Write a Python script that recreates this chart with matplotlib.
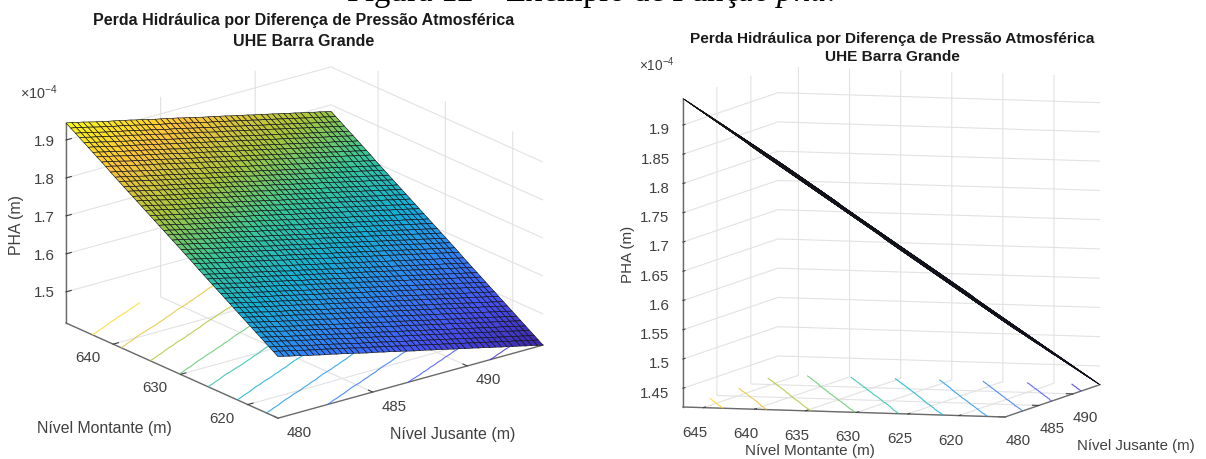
import numpy as np
import matplotlib
matplotlib.use("Agg")
import matplotlib.pyplot as plt
from matplotlib.colors import LinearSegmentedColormap, Normalize
from matplotlib.transforms import Affine2D
from mpl_toolkits.mplot3d import proj3d

W, H = 1206, 459

plt.rcParams["font.family"] = ["Liberation Sans", "DejaVu Sans"]
plt.rcParams["mathtext.fontset"] = "custom"
plt.rcParams["mathtext.rm"] = "Liberation Sans"
plt.rcParams["mathtext.it"] = "Liberation Serif:italic"
plt.rcParams["mathtext.default"] = "regular"
plt.rcParams["grid.color"] = "#e2e2e2"
plt.rcParams["grid.linewidth"] = 0.8

# mesh nodes (m)
nivel_jusante = [480.0, 480.3, 480.6, 480.9, 481.2, 481.6, 481.9, 482.2, 482.5, 482.8,
                 483.1, 483.4, 483.7, 484.0, 484.3, 484.7, 485.0, 485.3, 485.6, 485.9,
                 486.2, 486.5, 486.8, 487.2, 487.5, 487.8, 488.1, 488.4, 488.7, 489.0,
                 489.3, 489.6, 489.9, 490.3, 490.6, 490.9, 491.2, 491.5, 491.8, 492.1,
                 492.4, 492.8, 493.1, 493.4, 493.7, 494.0]
nivel_montante = [615.5, 616.2, 616.8, 617.5, 618.1, 618.8, 619.4, 620.1, 620.8, 621.4,
                  622.1, 622.7, 623.4, 624.0, 624.7, 625.3, 626.0, 626.6, 627.3, 628.0,
                  628.6, 629.3, 629.9, 630.6, 631.2, 631.9, 632.5, 633.2, 633.9, 634.5,
                  635.2, 635.8, 636.5, 637.1, 637.8, 638.4, 639.1, 639.7, 640.4, 641.1,
                  641.7, 642.4, 643.0, 643.7, 644.3, 645.0, 645.6, 646.3, 647.0]

# PHA (x 1e-4 m) along the montante nodes, at jusante 480
pha_montante = [1.580, 1.588, 1.595, 1.603, 1.610, 1.618, 1.625, 1.633, 1.641, 1.648,
                1.656, 1.663, 1.671, 1.678, 1.686, 1.693, 1.701, 1.708, 1.716, 1.725,
                1.732, 1.740, 1.747, 1.755, 1.762, 1.770, 1.777, 1.785, 1.793, 1.800,
                1.808, 1.815, 1.823, 1.830, 1.838, 1.845, 1.853, 1.860, 1.868, 1.877,
                1.884, 1.892, 1.899, 1.907, 1.914, 1.922, 1.929, 1.937, 1.945]
# drop of PHA along the jusante nodes
queda_jusante = [0.000, 0.003, 0.007, 0.010, 0.014, 0.019, 0.022, 0.026, 0.029, 0.032,
                 0.036, 0.039, 0.043, 0.046, 0.050, 0.055, 0.058, 0.061, 0.065, 0.068,
                 0.072, 0.075, 0.079, 0.084, 0.087, 0.090, 0.094, 0.097, 0.101, 0.104,
                 0.108, 0.111, 0.115, 0.119, 0.123, 0.126, 0.130, 0.133, 0.137, 0.140,
                 0.144, 0.148, 0.152, 0.155, 0.159, 0.162]

contour_levels = [1.45, 1.50, 1.55, 1.60, 1.65, 1.70, 1.75, 1.80, 1.85, 1.90]

left_z_ticks = [1.5, 1.6, 1.7, 1.8, 1.9]
left_m_ticks = [620, 630, 640]
right_z_ticks = [1.45, 1.5, 1.55, 1.6, 1.65, 1.7, 1.75, 1.8, 1.85, 1.9]
right_m_ticks = [620, 625, 630, 635, 640, 645]
j_ticks = [480, 485, 490]

titulo = "Perda Hidráulica por Diferença de Pressão Atmosférica\nUHE Barra Grande"

parula = LinearSegmentedColormap.from_list("parula", [
    (0.2422, 0.1504, 0.6603), (0.2810, 0.3228, 0.9579), (0.1786, 0.5289, 0.9682),
    (0.0689, 0.6948, 0.8394), (0.2161, 0.7843, 0.5923), (0.6720, 0.7793, 0.2227),
    (0.9970, 0.7659, 0.2199), (0.9769, 0.9839, 0.0805)])

X, Y = np.meshgrid(nivel_jusante, nivel_montante)
Z = np.array(pha_montante)[:, None] - np.array(queda_jusante)[None, :]
zmin, zmax = min(Z.min(), 1.418), Z.max()
norm = Normalize(zmin, zmax)

fig = plt.figure(figsize=(W / 100, H / 100), dpi=100)


def project_px(ax, x, y, z):
    x2, y2, _ = proj3d.proj_transform(x, y, z, ax.get_proj())
    px, py = ax.transData.transform((x2, y2))
    return px, H - py


# moves the square axes so the floor corners land on the wanted pixels
def fit_axes(ax, corner_a, corner_b, target_a, target_b):
    for i in range(3):
        fig.canvas.draw()
        pa = project_px(ax, *corner_a)
        pb = project_px(ax, *corner_b)
        scale = (target_b[0] - target_a[0]) / (pb[0] - pa[0])
        pos = ax.get_position()
        cx = (pos.x0 + pos.x1) / 2 * W
        cy = H - (pos.y0 + pos.y1) / 2 * H
        new_cx = target_a[0] - (pa[0] - cx) * scale
        new_cy = target_a[1] - (pa[1] - cy) * scale
        size = pos.width * W * scale
        ax.set_position([(new_cx - size / 2) / W, 1 - (new_cy + size / 2) / H,
                         size / W, size / H])


# axis3d resets the tick transforms on every draw, so the shift goes in here
def shift_ticklabels(ax, axis, dx, dy, ha=None):
    orig = axis.get_major_ticks
    shift = Affine2D().translate(dx, -dy)

    def shifted(numticks=None):
        ticks = orig(numticks)
        for t in ticks:
            t.label1.set_transform(ax.transData + shift)
            if ha:
                t.label1.set_ha(ha)
        return ticks
    axis.get_major_ticks = shifted


def make_panel(rect, elev, azim, aspect, m_ticks, z_ticks, zfmt):
    ax = fig.add_axes(rect, projection="3d", proj_type="ortho", computed_zorder=False)
    ax.patch.set_alpha(0)
    ax.view_init(elev=elev, azim=azim)
    ax.set_box_aspect(aspect)
    ax.contour(X, Y, Z, levels=contour_levels, zdir="z", offset=zmin, cmap=parula,
               norm=norm, linewidths=0.8, alpha=0.85, zorder=1)
    ax.plot_surface(X, Y, Z, rstride=1, cstride=1, cmap=parula, norm=norm, shade=False,
                    edgecolor="#101018", linewidth=0.45, antialiased=True, zorder=2)
    ax.set_xlim(480, 494)
    ax.set_ylim(615.5, 647)
    ax.set_zlim(zmin, zmax)
    ax.set_xticks(j_ticks)
    ax.set_yticks(m_ticks)
    ax.set_zticks(z_ticks)
    ax.set_zticklabels([zfmt % v for v in z_ticks])
    for axis in (ax.xaxis, ax.yaxis, ax.zaxis):
        axis.set_pane_color((1, 1, 1, 0))
        axis.pane.set_edgecolor("none")
        axis.line.set_color("#6a6a6a")
        axis.line.set_linewidth(1.0)
        axis._axinfo["tick"]["inward_factor"] = 0.0
        axis._axinfo["tick"]["outward_factor"] = 0.25
        axis._axinfo["tick"]["linewidth"] = {True: 0.8, False: 0.5}
        axis._axinfo["tick"]["color"] = "#404040"
    ax.tick_params(labelsize=10.8, colors="#404040", pad=4)
    return ax


left = make_panel([0.05, 0.05, 0.4, 0.4 * W / H], 20.6, -128.1, (336.6, 343.6, 213.7),
                  left_m_ticks, left_z_ticks, "%.1f")
fit_axes(left, (480, 647, zmin), (494, 615.5, zmin), (66, 323), (543, 345))
shift_ticklabels(left, left.xaxis, 8, -11)
shift_ticklabels(left, left.yaxis, -9, -10)
shift_ticklabels(left, left.zaxis, 8, -4)

right = make_panel([0.55, 0.05, 0.4, 0.4 * W / H], 5.9, -163.2, (328.7, 336.4, 310),
                   right_m_ticks, right_z_ticks, "%g")
fit_axes(right, (480, 647, zmin), (494, 615.5, zmin), (683, 407), (1100, 387))
shift_ticklabels(right, right.xaxis, -6, -2)
shift_ticklabels(right, right.yaxis, -3, -2)
shift_ticklabels(right, right.zaxis, 11, -3, ha="right")


def px_text(x, y, s, **kw):
    kw.setdefault("ha", "center")
    kw.setdefault("va", "center")
    kw.setdefault("color", "#404040")
    fig.text(x / W, 1 - y / H, s, **kw)


px_text(590, 1, r"Figura 12 – Exemplo de Função $\mathit{pha}$.", family="Liberation Serif",
        fontsize=23.7, color="black", va="baseline")

px_text(304, 31, titulo, fontsize=11.5, fontweight="bold", color="#1a1a1a", linespacing=1.42)
px_text(892, 48, titulo, fontsize=11.1, fontweight="bold", color="#1a1a1a", linespacing=1.35)

px_text(39, 93, r"$\times10^{-4}$", fontsize=10.4)
px_text(657, 65, r"$\times10^{-4}$", fontsize=9.8)
px_text(17, 225, "PHA (m)", fontsize=11.4, rotation=90)
px_text(628, 254, "PHA (m)", fontsize=10.9, rotation=90)
px_text(104, 429, "Nível Montante (m)", fontsize=11.4)
px_text(453, 434, "Nível Jusante (m)", fontsize=11.5)
px_text(810, 451, "Nível Montante (m)", fontsize=11)
px_text(1136, 446, "Nível Jusante (m)", fontsize=10.8)

fig.savefig("out.png", dpi=100)
